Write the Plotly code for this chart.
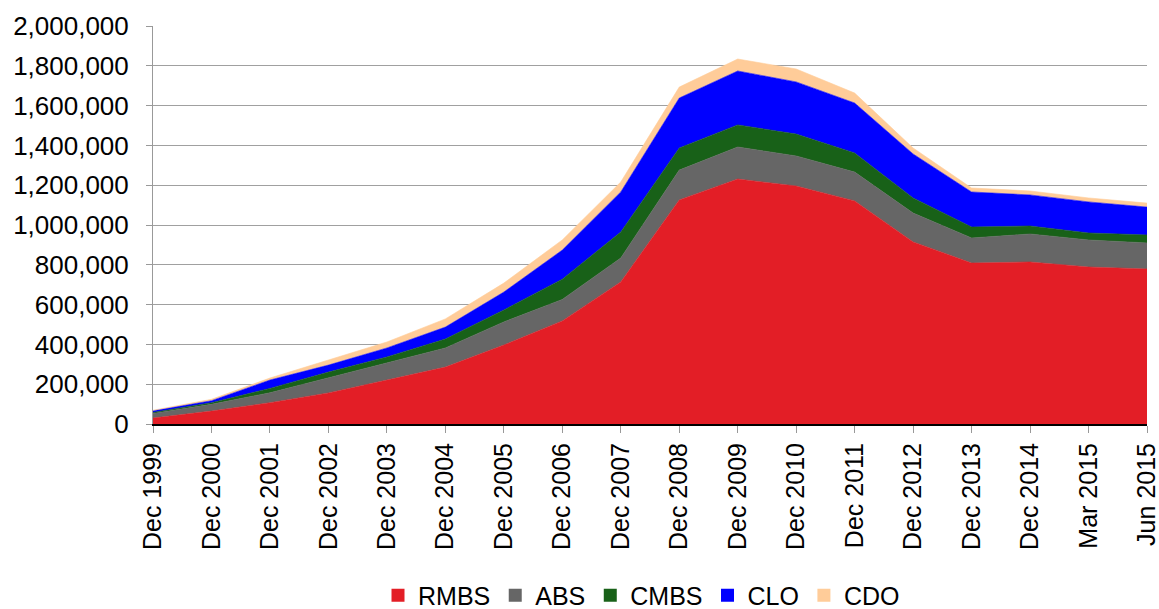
import plotly.graph_objects as go

categories = ["Dec 1999", "Dec 2000", "Dec 2001", "Dec 2002", "Dec 2003", "Dec 2004",
              "Dec 2005", "Dec 2006", "Dec 2007", "Dec 2008", "Dec 2009", "Dec 2010",
              "Dec 2011", "Dec 2012", "Dec 2013", "Dec 2014", "Mar 2015", "Jun 2015"]

rmbs = [30000, 65000, 107000, 156000, 221000, 286000, 397000, 518000, 714000, 1126000,
        1231000, 1196000, 1121000, 915000, 809000, 814000, 789000, 779000]
abs_ = [23000, 34000, 50000, 75000, 85000, 96000, 116000, 108000, 120000, 150000,
        161000, 151000, 145000, 145000, 126000, 141000, 136000, 131000]
cmbs = [5000, 8000, 22000, 30000, 31000, 45000, 60000, 102000, 131000, 111000,
        111000, 110000, 96000, 76000, 55000, 40000, 35000, 40000]
clo = [8000, 10000, 42000, 35000, 45000, 60000, 90000, 146000, 201000, 251000,
       271000, 262000, 251000, 221000, 176000, 156000, 156000, 140000]
cdo = [3000, 7000, 10000, 26000, 30000, 41000, 45000, 51000, 50000, 55000,
       60000, 65000, 50000, 30000, 20000, 20000, 20000, 20000]

series = [
    ("RMBS", rmbs, "#E31E26"),
    ("ABS", abs_, "#666666"),
    ("CMBS", cmbs, "#186118"),
    ("CLO", clo, "#0000FF"),
    ("CDO", cdo, "#FFCC99"),
]

fig = go.Figure()
for name, vals, col in series:
    fig.add_trace(go.Scatter(
        x=categories, y=vals, name=name, mode="lines",
        stackgroup="one", fillcolor=col, showlegend=False,
        line=dict(width=0.6, color=col),
    ))
# legend entries with square swatches
for name, vals, col in series:
    fig.add_trace(go.Scatter(
        x=[None], y=[None], name=name, mode="markers",
        marker=dict(symbol="square", size=13, color=col),
        showlegend=True,
    ))

font = "Liberation Sans, Arial, sans-serif"
fig.update_layout(
    width=1159, height=609,
    margin=dict(l=153, r=12, t=26, b=185),
    paper_bgcolor="white", plot_bgcolor="white",
    font=dict(family=font, size=25, color="black"),
    showlegend=True,
    legend=dict(orientation="h", x=0.5535, xanchor="center", xref="container",
                y=0.022, yanchor="middle", yref="container",
                font=dict(size=25), traceorder="normal", itemwidth=30,
                tracegroupgap=0, bgcolor="rgba(0,0,0,0)"),
    hovermode=False,
)
fig.update_xaxes(
    type="category", range=[0, 17], tickangle=-90, automargin=False,
    showline=True, linecolor="black", linewidth=2,
    ticks="outside", ticklen=7, tickcolor="#999999", tickwidth=1,
    showgrid=False, tickfont=dict(size=25), zeroline=False,
)
fig.update_yaxes(
    range=[0, 2000000], dtick=200000, tickformat=",", automargin=False,
    showline=True, linecolor="#999999", linewidth=1,
    ticks="outside", ticklen=6, tickcolor="#999999",
    showgrid=True, gridcolor="#A0A0A0", gridwidth=1,
    zeroline=False, tickfont=dict(size=26), ticklabelstandoff=12,
)

fig.write_html(
    "out.html",
    config={"displayModeBar": False, "staticPlot": True},
    post_script="document.body.style.margin='0';document.body.style.overflow='hidden';",
)
